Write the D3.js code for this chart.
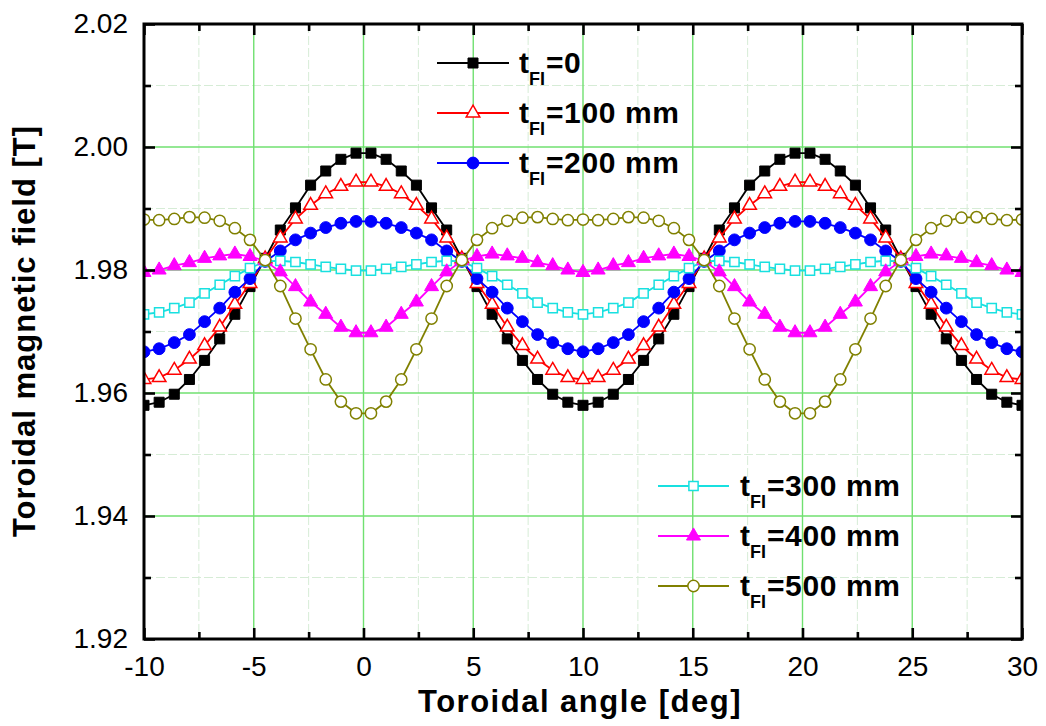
<!DOCTYPE html>
<html>
<head>
<meta charset="utf-8">
<script src="https://cdn.jsdelivr.net/npm/d3@7"></script>
<style>
body { margin: 0; background: #fff; }
text { font-family: "Liberation Sans", Arial, sans-serif; fill: #000; }
</style>
</head>
<body>
<div id="chart"></div>
<script>
// toroidal angle of each sample [deg]
var angle = [-10, -9.31, -8.62, -7.93, -7.24, -6.55, -5.86, -5.17, -4.48, -3.79, -3.10, -2.41, -1.72, -1.03, -0.34,
  0.34, 1.03, 1.72, 2.41, 3.10, 3.79, 4.48, 5.17, 5.86, 6.55, 7.24, 7.93, 8.62, 9.31,
  10, 10.69, 11.38, 12.07, 12.76, 13.45, 14.14, 14.83, 15.52, 16.21, 16.90, 17.59, 18.28, 18.97, 19.66,
  20.34, 21.03, 21.72, 22.41, 23.10, 23.79, 24.48, 25.17, 25.86, 26.55, 27.24, 27.93, 28.62, 29.31, 30];

// toroidal field [T] for each ferromagnetic insert thickness
var field0 = [1.9580, 1.9585, 1.9598, 1.9622, 1.9653, 1.9688, 1.9728, 1.9773, 1.9819, 1.9865, 1.9901, 1.9938, 1.9961, 1.9980, 1.9990,
  1.9990, 1.9980, 1.9961, 1.9938, 1.9901, 1.9865, 1.9819, 1.9773, 1.9728, 1.9688, 1.9653, 1.9622, 1.9598, 1.9585,
  1.9580, 1.9585, 1.9598, 1.9622, 1.9653, 1.9688, 1.9728, 1.9773, 1.9819, 1.9865, 1.9901, 1.9938, 1.9961, 1.9980, 1.9990,
  1.9990, 1.9980, 1.9961, 1.9938, 1.9901, 1.9865, 1.9819, 1.9773, 1.9728, 1.9688, 1.9653, 1.9622, 1.9598, 1.9585, 1.9580];
var field100 = [1.9622, 1.9625, 1.9637, 1.9655, 1.9677, 1.9707, 1.9744, 1.9778, 1.9818, 1.9852, 1.9883, 1.9905, 1.9924, 1.9936, 1.9943,
  1.9943, 1.9936, 1.9924, 1.9905, 1.9883, 1.9852, 1.9818, 1.9778, 1.9744, 1.9707, 1.9677, 1.9655, 1.9637, 1.9625,
  1.9622, 1.9625, 1.9637, 1.9655, 1.9677, 1.9707, 1.9744, 1.9778, 1.9818, 1.9852, 1.9883, 1.9905, 1.9924, 1.9936, 1.9943,
  1.9943, 1.9936, 1.9924, 1.9905, 1.9883, 1.9852, 1.9818, 1.9778, 1.9744, 1.9707, 1.9677, 1.9655, 1.9637, 1.9625, 1.9622];
var field200 = [1.9667, 1.9672, 1.9682, 1.9695, 1.9716, 1.9738, 1.9764, 1.9786, 1.9814, 1.9831, 1.9849, 1.9860, 1.9869, 1.9876, 1.9879,
  1.9879, 1.9876, 1.9869, 1.9860, 1.9849, 1.9831, 1.9814, 1.9786, 1.9764, 1.9738, 1.9716, 1.9695, 1.9682, 1.9672,
  1.9667, 1.9672, 1.9682, 1.9695, 1.9716, 1.9738, 1.9764, 1.9786, 1.9814, 1.9831, 1.9849, 1.9860, 1.9869, 1.9876, 1.9879,
  1.9879, 1.9876, 1.9869, 1.9860, 1.9849, 1.9831, 1.9814, 1.9786, 1.9764, 1.9738, 1.9716, 1.9695, 1.9682, 1.9672, 1.9667];
var field300 = [1.9728, 1.9731, 1.9738, 1.9747, 1.9762, 1.9776, 1.9790, 1.9803, 1.9814, 1.9815, 1.9813, 1.9809, 1.9805, 1.9802, 1.9799,
  1.9799, 1.9802, 1.9805, 1.9809, 1.9813, 1.9815, 1.9814, 1.9803, 1.9790, 1.9776, 1.9762, 1.9747, 1.9738, 1.9731,
  1.9728, 1.9731, 1.9738, 1.9747, 1.9762, 1.9776, 1.9790, 1.9803, 1.9814, 1.9815, 1.9813, 1.9809, 1.9805, 1.9802, 1.9799,
  1.9799, 1.9802, 1.9805, 1.9809, 1.9813, 1.9815, 1.9814, 1.9803, 1.9790, 1.9776, 1.9762, 1.9747, 1.9738, 1.9731, 1.9728];
var field400 = [1.9796, 1.9800, 1.9807, 1.9812, 1.9819, 1.9823, 1.9826, 1.9822, 1.9815, 1.9797, 1.9773, 1.9748, 1.9728, 1.9707, 1.9698,
  1.9698, 1.9707, 1.9728, 1.9748, 1.9773, 1.9797, 1.9815, 1.9822, 1.9826, 1.9823, 1.9819, 1.9812, 1.9807, 1.9800,
  1.9796, 1.9800, 1.9807, 1.9812, 1.9819, 1.9823, 1.9826, 1.9822, 1.9815, 1.9797, 1.9773, 1.9748, 1.9728, 1.9707, 1.9698,
  1.9698, 1.9707, 1.9728, 1.9748, 1.9773, 1.9797, 1.9815, 1.9822, 1.9826, 1.9823, 1.9819, 1.9812, 1.9807, 1.9800, 1.9796];
var field500 = [1.9882, 1.9881, 1.9883, 1.9886, 1.9885, 1.9880, 1.9868, 1.9849, 1.9816, 1.9774, 1.9721, 1.9671, 1.9622, 1.9586, 1.9567,
  1.9567, 1.9586, 1.9622, 1.9671, 1.9721, 1.9774, 1.9816, 1.9849, 1.9868, 1.9880, 1.9885, 1.9886, 1.9883, 1.9881,
  1.9882, 1.9881, 1.9883, 1.9886, 1.9885, 1.9880, 1.9868, 1.9849, 1.9816, 1.9774, 1.9721, 1.9671, 1.9622, 1.9586, 1.9567,
  1.9567, 1.9586, 1.9622, 1.9671, 1.9721, 1.9774, 1.9816, 1.9849, 1.9868, 1.9880, 1.9885, 1.9886, 1.9883, 1.9881, 1.9882];

var labels = ["=0", "=100 mm", "=200 mm", "=300 mm", "=400 mm", "=500 mm"];
var xTicks = [-10, -5, 0, 5, 10, 15, 20, 25, 30];
var xMinor = [-7.5, -2.5, 2.5, 7.5, 12.5, 17.5, 22.5, 27.5];
var yTicks = [1.92, 1.94, 1.96, 1.98, 2.00, 2.02];
var yMinor = [1.93, 1.95, 1.97, 1.99, 2.01];

var margin = {top: 24, right: 24, bottom: 87, left: 144};
var width = 1046 - margin.left - margin.right;
var height = 726 - margin.top - margin.bottom;

var xScale = d3.scaleLinear().domain([-10, 30]).range([0, width]),
    yScale = d3.scaleLinear().domain([1.92, 2.02]).range([height, 0]);

var series = [
  {values: field0,   color: "#000000", symbol: d3.symbolSquare,   size: 100, open: false},
  {values: field100, color: "#ff0000", symbol: d3.symbolTriangle, size: 80,  open: true},
  {values: field200, color: "#0000ff", symbol: d3.symbolCircle,   size: 110, open: false},
  {values: field300, color: "#18e0e0", symbol: d3.symbolSquare,   size: 85,  open: true},
  {values: field400, color: "#ff00ff", symbol: d3.symbolTriangle, size: 85,  open: false},
  {values: field500, color: "#808000", symbol: d3.symbolCircle,   size: 100, open: true}
];
series.forEach(function(s, i) { s.label = labels[i]; });

var svg = d3.select("#chart").append("svg")
    .attr("width", 1046)
    .attr("height", 726);

var g = svg.append("g")
    .attr("transform", "translate(" + margin.left + "," + margin.top + ")");

g.append("clipPath").attr("id", "clip")
  .append("rect").attr("width", width).attr("height", height);

// minor grid
var grid = g.append("g").attr("class", "grid");
grid.selectAll(".vminor").data(xMinor).enter().append("line")
  .attr("x1", function(d) { return xScale(d); }).attr("x2", function(d) { return xScale(d); })
  .attr("y1", 0).attr("y2", height)
  .attr("stroke", "#d6ecd6").attr("stroke-width", 1).attr("stroke-dasharray", "9,3");
grid.selectAll(".hminor").data(yMinor).enter().append("line")
  .attr("y1", function(d) { return yScale(d); }).attr("y2", function(d) { return yScale(d); })
  .attr("x1", 0).attr("x2", width)
  .attr("stroke", "#d6ecd6").attr("stroke-width", 1).attr("stroke-dasharray", "9,3");

// major grid
grid.selectAll(".vmajor").data(xTicks.slice(1, -1)).enter().append("line")
  .attr("x1", function(d) { return xScale(d); }).attr("x2", function(d) { return xScale(d); })
  .attr("y1", 0).attr("y2", height)
  .attr("stroke", "#70e070").attr("stroke-width", 1.4);
grid.selectAll(".hmajor").data(yTicks.slice(1, -1)).enter().append("line")
  .attr("y1", function(d) { return yScale(d); }).attr("y2", function(d) { return yScale(d); })
  .attr("x1", 0).attr("x2", width)
  .attr("stroke", "#70e070").attr("stroke-width", 1.4);

// curves
var line = d3.line()
    .x(function(d, i) { return xScale(angle[i]); })
    .y(function(d) { return yScale(d); });

var plot = g.append("g").attr("clip-path", "url(#clip)");

series.forEach(function(s) {
  plot.append("path")
    .datum(s.values)
    .attr("fill", "none")
    .attr("stroke", s.color)
    .attr("stroke-width", 1.8)
    .attr("d", line);

  plot.append("g").selectAll("path")
    .data(s.values).enter()
    .append("path")
    .attr("transform", function(d, i) { return "translate(" + xScale(angle[i]) + "," + yScale(d) + ")"; })
    .attr("d", d3.symbol().type(s.symbol).size(s.size))
    .attr("fill", s.open ? "#fff" : s.color)
    .attr("stroke", s.color)
    .attr("stroke-width", s.open ? 1.5 : 1);
});

// axes, ticks inward on all four sides
function styleAxis(sel) {
  sel.select(".domain").remove();
  sel.selectAll(".tick line").attr("stroke", "#000").attr("stroke-width", 2.6);
  sel.selectAll(".tick text")
    .style("font-family", "'Liberation Sans', Arial, sans-serif")
    .style("font-size", "28px")
    .attr("fill", "#000");
}

g.append("g").attr("transform", "translate(0," + height + ")")
  .call(d3.axisBottom(xScale).tickValues(xTicks).tickSizeInner(-11).tickSizeOuter(0).tickPadding(17)
    .tickFormat(function(d) { return String(d); }))
  .call(styleAxis);
g.append("g").attr("transform", "translate(0," + height + ")")
  .call(d3.axisBottom(xScale).tickValues(xMinor).tickSizeInner(-7).tickSizeOuter(0).tickFormat(""))
  .call(styleAxis);
g.append("g")
  .call(d3.axisTop(xScale).tickValues(xTicks).tickSizeInner(-11).tickSizeOuter(0).tickFormat(""))
  .call(styleAxis);
g.append("g")
  .call(d3.axisTop(xScale).tickValues(xMinor).tickSizeInner(-7).tickSizeOuter(0).tickFormat(""))
  .call(styleAxis);

g.append("g")
  .call(d3.axisLeft(yScale).tickValues(yTicks).tickSizeInner(-11).tickSizeOuter(0).tickPadding(16)
    .tickFormat(d3.format(".2f")))
  .call(styleAxis);
g.append("g")
  .call(d3.axisLeft(yScale).tickValues(yMinor).tickSizeInner(-7).tickSizeOuter(0).tickFormat(""))
  .call(styleAxis);
g.append("g").attr("transform", "translate(" + width + ",0)")
  .call(d3.axisRight(yScale).tickValues(yTicks).tickSizeInner(-11).tickSizeOuter(0).tickFormat(""))
  .call(styleAxis);
g.append("g").attr("transform", "translate(" + width + ",0)")
  .call(d3.axisRight(yScale).tickValues(yMinor).tickSizeInner(-7).tickSizeOuter(0).tickFormat(""))
  .call(styleAxis);

g.append("rect")
  .attr("width", width).attr("height", height)
  .attr("fill", "none").attr("stroke", "#000").attr("stroke-width", 3);

// axis titles
svg.append("text")
  .attr("x", 580).attr("y", 712)
  .attr("text-anchor", "middle")
  .style("font-size", "31px").style("font-weight", "bold").style("letter-spacing", "1.5px")
  .text("Toroidal angle [deg]");

svg.append("text")
  .attr("transform", "translate(35,331) rotate(-90)")
  .attr("text-anchor", "middle")
  .style("font-size", "31px").style("font-weight", "bold").style("letter-spacing", "1px")
  .text("Toroidal magnetic field [T]");

// legends: two boxes of three entries
var legendPos = [
  {x1: 437, x2: 509, tx: 519, y: 63},
  {x1: 437, x2: 509, tx: 519, y: 113},
  {x1: 437, x2: 509, tx: 519, y: 163},
  {x1: 658, x2: 729, tx: 740, y: 486},
  {x1: 658, x2: 729, tx: 740, y: 536},
  {x1: 658, x2: 729, tx: 740, y: 586}
];

series.forEach(function(s, i) {
  var p = legendPos[i];
  var lg = svg.append("g").attr("class", "legend");
  lg.append("line")
    .attr("x1", p.x1).attr("x2", p.x2).attr("y1", p.y).attr("y2", p.y)
    .attr("stroke", s.color).attr("stroke-width", 1.8);
  lg.append("path")
    .attr("transform", "translate(" + (p.x1 + p.x2) / 2 + "," + p.y + ")")
    .attr("d", d3.symbol().type(s.symbol).size(s.size))
    .attr("fill", s.open ? "#fff" : s.color)
    .attr("stroke", s.color)
    .attr("stroke-width", s.open ? 1.5 : 1);
  var t = lg.append("text")
    .attr("x", p.tx).attr("y", p.y + 10)
    .style("font-weight", "bold").style("font-size", "30px");
  t.append("tspan").text("t");
  t.append("tspan").attr("dy", 12).style("font-size", "18px").text("FI");
  t.append("tspan").attr("dy", -12).attr("dx", 1).style("letter-spacing", "0.6px").text(s.label);
});
</script>
</body>
</html>
